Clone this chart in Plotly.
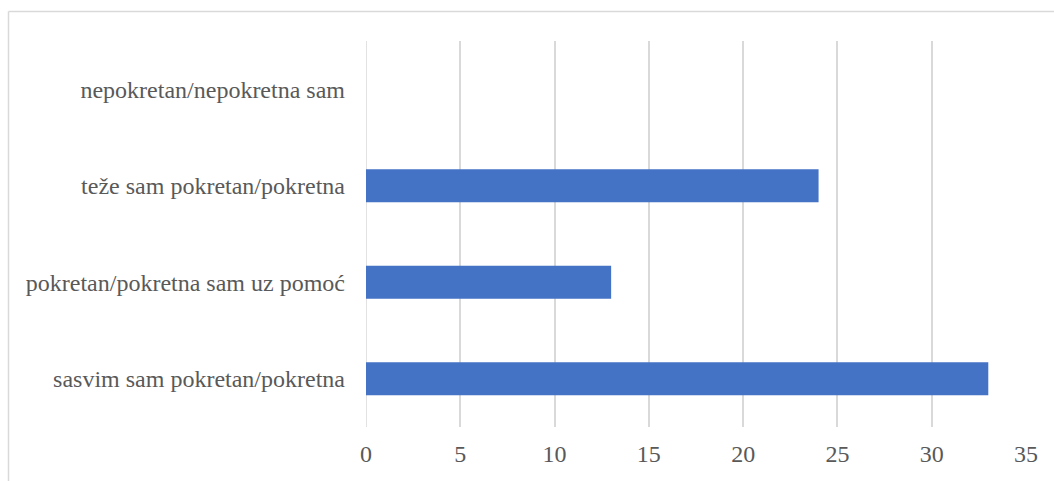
import plotly.graph_objects as go

categories = ["sasvim sam pokretan/pokretna", "pokretan/pokretna sam uz pomoć",
              "teže sam pokretan/pokretna", "nepokretan/nepokretna sam"]
values = [33, 13, 24, 0]
x_ticks = [0, 5, 10, 15, 20, 25, 30, 35]

W, H = 1054, 481
L, R, T, B = 366, 28, 41, 54
pw, ph = W - L - R, H - T - B

def px(x):
    return (x - L) / pw

def py(y):
    return (H - B - y) / ph

fig = go.Figure(go.Bar(
    y=categories, x=values, orientation="h",
    marker=dict(color="#4472C4", line=dict(width=0)),
))

font = dict(family="Liberation Serif", size=24, color="#595959")

fig.update_layout(
    width=W, height=H,
    margin=dict(l=L, r=R, t=T, b=B),
    paper_bgcolor="white", plot_bgcolor="white",
    bargap=0.66,
    showlegend=False,
    font=font,
    xaxis=dict(range=[0, 35], tickvals=x_ticks, showgrid=True, gridcolor="#d9d9d9",
               gridwidth=1.5, zeroline=False, showline=False, ticks="",
               ticklabelstandoff=10, tickfont=font, fixedrange=True),
    yaxis=dict(showgrid=False, zeroline=False, showline=False, ticks="",
               ticklabelstandoff=20, tickfont=font, categoryorder="array",
               categoryarray=categories, fixedrange=True),
    shapes=[
        dict(type="line", xref="paper", yref="paper", x0=px(8.5), x1=px(8.5),
             y0=py(11.5), y1=py(H + 5), line=dict(color="#d9d9d9", width=1.5)),
        dict(type="line", xref="paper", yref="paper", x0=px(8.5), x1=px(W + 5),
             y0=py(11.5), y1=py(11.5), line=dict(color="#d9d9d9", width=1.5)),
        dict(type="line", xref="x", yref="paper", x0=0, x1=0, y0=0, y1=1,
             line=dict(color="#d9d9d9", width=1.5), layer="below"),
    ],
)

fig.write_html("out.html", config={"displayModeBar": False},
               post_script="document.body.style.margin='0';document.body.style.overflow='hidden';")
